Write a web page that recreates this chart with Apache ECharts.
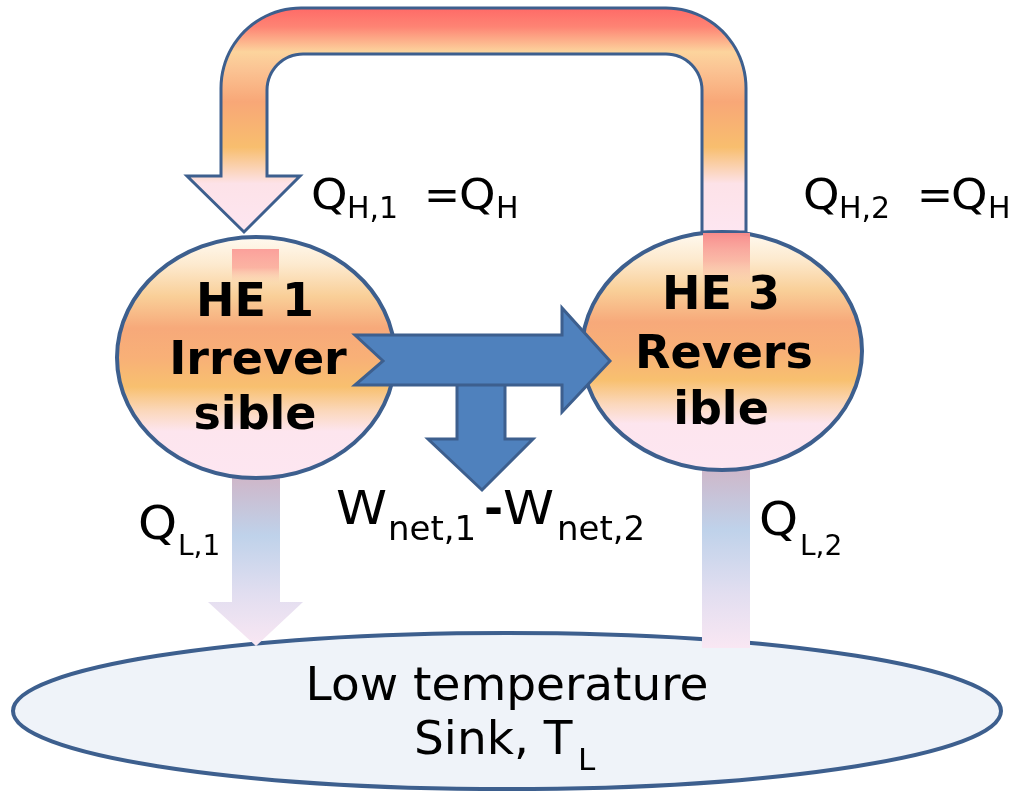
<!DOCTYPE html>
<html><head><meta charset="utf-8">
<script src="https://cdn.jsdelivr.net/npm/echarts@6/dist/echarts.min.js"></script>
<style>html,body{margin:0;padding:0;background:#fff}#c{width:1014px;height:792px}</style>
</head><body><div id="c"></div>
<script>
// ---- Text content of the diagram ----
const engineTitles = ['HE 1', 'HE 3'];
const engineLines = [['Irrever', 'sible'], ['Revers', 'ible']];
const heatInLabels = [['Q', 'H,1', '=Q', 'H'], ['Q', 'H,2', '=Q', 'H']];
const heatOutLabels = [['Q', 'L,1'], ['Q', 'L,2']];
const workLabel = ['W', 'net,1', '-', 'W', 'net,2'];
const sinkLabel = ['Low temperature', 'Sink, T', 'L'];

const FONT = '"DejaVu Sans", Verdana, sans-serif';
const STROKE = '#3d5f8e';

function T(str, x, base, size, align, weight, sx) {
  return {
    type: 'text', x: x, y: base - 0.35 * size, z: 50, scaleX: sx || 1,
    style: { text: str, font: (weight || 'normal') + ' ' + size + 'px ' + FONT, fill: '#000',
      textAlign: align || 'left', textVerticalAlign: 'middle' }
  };
}
function arc(cx, cy, r, a0, a1, n) {
  const p = [];
  for (let i = 0; i <= n; i++) {
    const a = a0 + (a1 - a0) * i / n;
    p.push([cx + r * Math.cos(a), cy + r * Math.sin(a)]);
  }
  return p;
}
function lin(stops) {
  return { type: 'linear', x: 0, y: 0, x2: 0, y2: 1, global: false,
    colorStops: stops.map(s => ({ offset: s[0], color: s[1] })) };
}

// U-shaped heat arrow
const uPts = [].concat(
  [[746, 232]],
  arc(666, 88, 80, 0, -Math.PI / 2, 24),
  arc(301, 88, 80, -Math.PI / 2, -Math.PI, 24),
  [[221, 176], [187, 176], [244, 232], [300, 176], [267, 176]],
  arc(303, 90, 36, -Math.PI, -Math.PI / 2, 16),
  arc(666, 90, 36, -Math.PI / 2, 0, 16),
  [[702, 232]]
);
const uFill = lin([[0, '#ff6866'], [0.09, '#fe8474'], [0.2, '#fcd49d'], [0.28, '#fbc393'],
  [0.42, '#f8a777'], [0.62, '#f8be6e'], [0.78, '#fde2e8'], [1, '#fde6f1']]);
const circleFill = () => lin([[0, '#fffbf3'], [0.12, '#fdeacf'], [0.25, '#f9cf98'], [0.38, '#f7a97a'],
  [0.5, '#f8b077'], [0.62, '#f8c06f'], [0.72, '#fbd8bd'], [0.8, '#fde5ee'], [1, '#fde6f1']]);
const coldFill = () => lin([[0, '#cfb6c8'], [0.35, '#bfd2ea'], [0.7, '#e2def0'], [1, '#f9e7f3']]);

const elements = [];
// sink
elements.push({ type: 'ellipse', z: 1, shape: { cx: 507, cy: 711, rx: 494, ry: 78 },
  style: { fill: '#eff3f9', stroke: STROKE, lineWidth: 4 } });
// cold-side arrows
elements.push({ type: 'polygon', z: 2,
  shape: { points: [[232, 476], [280, 476], [280, 602], [303, 602], [256, 646], [208, 602], [232, 602]] },
  style: { fill: coldFill() } });
elements.push({ type: 'rect', z: 2, shape: { x: 702, y: 466, width: 48, height: 182 },
  style: { fill: coldFill() } });
// top arrow
elements.push({ type: 'polygon', z: 3, shape: { points: uPts },
  style: { fill: uFill, stroke: STROKE, lineWidth: 3 } });
// engines
elements.push({ type: 'ellipse', z: 4, shape: { cx: 256, cy: 357.5, rx: 139, ry: 120.5 },
  style: { fill: circleFill(), stroke: STROKE, lineWidth: 4 } });
elements.push({ type: 'ellipse', z: 4, shape: { cx: 722, cy: 351, rx: 140, ry: 119 },
  style: { fill: circleFill(), stroke: STROKE, lineWidth: 4 } });
// inner stripes
elements.push({ type: 'rect', z: 5, shape: { x: 232, y: 249, width: 47, height: 34 },
  style: { fill: lin([[0, 'rgba(251,160,155,1)'], [0.55, 'rgba(251,170,155,0.85)'], [1, 'rgba(251,200,170,0)']]) } });
elements.push({ type: 'rect', z: 5, shape: { x: 703, y: 233, width: 47, height: 56 },
  style: { fill: lin([[0, 'rgba(248,140,140,1)'], [0.5, 'rgba(249,165,150,0.7)'], [1, 'rgba(250,200,170,0)']]) } });
// work arrows
elements.push({ type: 'polygon', z: 6,
  shape: { points: [[457, 380], [505, 380], [505, 439], [533, 439], [482, 490], [428, 439], [457, 439]] },
  style: { fill: '#4f81bd', stroke: STROKE, lineWidth: 3 } });
elements.push({ type: 'polygon', z: 7,
  shape: { points: [[355, 335], [562, 335], [562, 308], [610, 361], [562, 412], [562, 385], [355, 385], [383, 361]] },
  style: { fill: '#4f81bd', stroke: STROKE, lineWidth: 3 } });

// engine texts
const engX = [255, 721];
const engBase = [[320, 378, 433], [313, 372, 428]];
for (let i = 0; i < 2; i++) {
  elements.push(T(engineTitles[i], engX[i], engBase[i][0], 46, 'center', 'bold'));
  elements.push(T(engineLines[i][0], engX[i] + 3, engBase[i][1], 46, 'center', 'bold'));
  elements.push(T(engineLines[i][1], engX[i], engBase[i][2], 46, 'center', 'bold'));
}
// heat-in labels
const hinX = [[311, 347, 424, 459, 496], [803, 839, 917, 951, 988]];
for (let i = 0; i < 2; i++) {
  const l = heatInLabels[i], x = hinX[i];
  elements.push(T(l[0], x[0], 213, 43, 'left', 'normal', 1.08));
  elements.push(T(l[1], x[1], 221, 30));
  elements.push(T('=', x[2], 213, 43));
  elements.push(T('Q', x[3], 213, 43, 'left', 'normal', 1.08));
  elements.push(T(l[3], x[4], 221, 30));
}
// heat-out labels
const houtX = [[138, 178], [759, 800]];
const houtBase = [[543, 558], [539, 558]];
for (let i = 0; i < 2; i++) {
  elements.push(T(heatOutLabels[i][0], houtX[i][0], houtBase[i][0], 46, 'left', 'normal', 1.08));
  elements.push(T(heatOutLabels[i][1], houtX[i][1], houtBase[i][1], 28));
}
// work label
elements.push(T(workLabel[0], 336, 528, 47, 'left', 'normal', 1.1));
elements.push(T(workLabel[1], 388, 543, 34));
elements.push(T(workLabel[2], 484, 528, 46, 'left', 'bold'));
elements.push(T(workLabel[3], 503, 528, 47, 'left', 'normal', 1.1));
elements.push(T(workLabel[4], 557, 543, 34));
// sink label
elements.push(T(sinkLabel[0], 507, 704, 47, 'center'));
elements.push(T(sinkLabel[1], 414, 758, 47));
elements.push(T(sinkLabel[2], 578, 773, 31));

const chart = echarts.init(document.getElementById('c'), null, { renderer: 'canvas' });
chart.setOption({ backgroundColor: '#ffffff', animation: false, graphic: { elements: elements } });
</script></body></html>
